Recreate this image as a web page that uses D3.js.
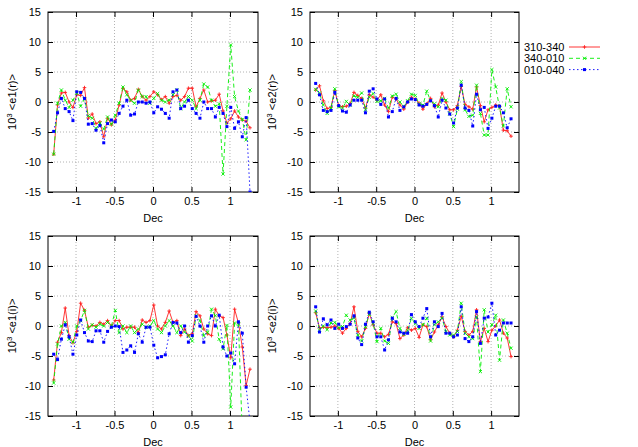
<!DOCTYPE html>
<html><head><meta charset="utf-8">
<script src="https://cdn.jsdelivr.net/npm/d3@7"></script>
<style>
body{margin:0;background:#fff}
svg{display:block}
text{font-family:"Liberation Sans",Arial,Helvetica,sans-serif}
</style>
</head><body>
<svg id="c" width="638" height="447"></svg>
<script>
// ---------------- data ----------------
const dec = [-1.29,-1.24,-1.19,-1.14,-1.09,-1.04,-0.99,-0.94,-0.89,-0.84,
  -0.79,-0.74,-0.69,-0.64,-0.59,-0.54,-0.49,-0.44,-0.39,-0.34,
  -0.29,-0.24,-0.19,-0.14,-0.09,-0.04,0.01,0.06,0.11,0.16,
  0.21,0.26,0.31,0.36,0.41,0.46,0.51,0.56,0.61,0.66,
  0.71,0.76,0.81,0.86,0.91,0.96,1.01,1.06,1.11,1.16,
  1.21,1.26];
const seriesNames = ["310-340","340-010","010-040"];
const xTicks = [-1,-0.5,0,0.5,1];
const yTicks = [-15,-10,-5,0,5,10,15];
const xDomain = [-1.364,1.364];
const yDomain = [-15,15];
const xTitle = "Dec";
const yTitles = ["<e1(r)>","<e2(r)>","<e1(i)>","<e2(i)>"];

// 10^3 <e1(r)>
const e1r_310_340 = [-8.7,-0.5,1.5,1.6,0.0,-0.9,1.2,1.1,2.4,-2.7,
  -2.0,-3.6,-3.3,-5.8,-2.7,-3.8,-3.0,-0.5,2.3,1.7,
  0.3,0.6,2.1,0.9,0.3,0.9,1.7,1.2,0.4,0.9,
  -0.2,0.9,1.1,0.3,0.9,2.3,2.3,-0.8,0.6,2.0,
  0.0,0.2,0.3,1.3,-1.5,-3.5,-2.8,-1.5,-2.5,-3.0,
  -3.2,-4.3];
const e1r_340_010 = [-8.7,-0.2,2.0,0.3,-0.9,0.3,1.5,-0.7,0.5,-2.3,
  -2.7,-4.4,-3.5,-4.5,-2.5,-3.7,-2.2,-0.2,2.5,1.2,
  0.3,-0.2,2.0,0.9,0.9,-0.2,0.6,1.4,0.3,0.0,
  0.3,1.2,2.0,-1.1,0.0,0.9,0.3,-1.1,0.3,3.0,
  2.5,0.3,-0.7,-0.3,-12.0,-0.7,9.5,0.9,-1.5,-2.9,
  -6.3,2.0];
const e1r_010_040 = [-4.9,-1.8,0.6,-1.1,-1.6,-3.1,1.7,1.6,0.6,-3.7,
  -3.6,-4.7,-3.9,-6.8,-3.6,-3.0,-3.3,-1.9,-0.7,0.3,
  -2.2,-2.0,0.0,0.0,-0.2,0.0,-1.8,-0.8,-1.2,-1.9,
  -2.7,1.7,2.0,-1.1,-0.7,0.3,-1.1,-1.9,-2.7,0.0,
  -1.1,-1.1,-2.5,-0.9,-1.9,-4.1,-0.9,-4.4,-3.3,-5.8,
  -2.6,-15.0];

// 10^3 <e2(r)>
const e2r_310_340 = [2.0,2.7,0.2,-1.1,-0.9,1.9,-0.6,-0.8,-0.7,-0.3,
  1.6,1.1,0.6,-1.0,1.2,0.8,0.3,1.2,-0.5,-1.6,
  0.8,0.5,-0.5,-1.2,0.0,0.8,0.5,-0.2,-1.2,-0.3,
  0.6,-0.8,-0.5,1.5,0.0,-1.3,-1.3,-0.6,2.6,-0.4,
  -0.8,-1.2,2.5,-0.6,-3.3,-1.3,-0.9,-0.5,-0.7,-4.7,
  -4.8,-5.7];
const e2r_340_010 = [2.1,1.5,-0.5,-1.9,-1.0,2.2,-0.8,-1.0,0.1,-0.5,
  1.0,0.8,1.5,-1.3,0.8,1.4,0.1,0.2,0.6,-1.0,
  1.0,1.3,0.0,-0.8,0.2,1.3,1.1,-0.3,-0.5,1.8,
  0.2,-0.3,-0.8,0.6,0.3,-2.0,-4.1,-1.2,3.4,-1.3,
  -2.4,-2.2,2.8,-1.9,-5.5,-5.5,5.4,2.5,-1.0,-4.0,
  2.2,-0.8];
const e2r_010_040 = [3.1,1.2,-1.4,-1.6,-1.4,1.6,-0.6,-1.5,-1.7,-0.5,
  0.3,0.3,0.3,-1.8,1.8,2.2,0.5,-0.4,0.5,-2.5,
  -1.6,0.6,-1.4,-0.8,0.0,0.5,0.4,-0.5,-0.7,-0.4,
  0.2,-0.6,-2.5,0.3,-1.0,-2.0,-3.5,-1.0,2.8,-1.0,
  -1.4,-4.0,1.3,-1.3,-0.9,-4.4,-2.7,-0.7,-0.7,-1.8,
  -4.3,-2.8];

// 10^3 <e1(i)>
const e1i_310_340 = [-9.0,-2.7,-1.1,3.0,-1.6,-2.8,-0.9,3.8,2.6,-0.2,
  0.1,0.0,0.6,0.3,0.9,0.0,0.9,0.9,-0.5,-0.2,
  -0.2,-0.2,-1.1,1.0,0.6,0.9,3.5,0.0,-0.5,0.6,
  2.5,0.6,0.9,-1.6,-0.5,-1.6,-1.3,2.4,1.7,-0.5,
  -1.3,-1.6,2.8,1.7,1.4,-1.5,-5.3,2.8,0.5,-3.5,
  -9.9,-7.2];
const e1i_340_010 = [-9.5,-3.0,0.0,0.6,-2.2,-2.7,0.0,0.9,2.6,-0.5,
  0.2,-0.2,0.3,0.0,0.6,0.0,2.6,-1.1,0.0,-1.1,
  0.0,-1.1,-0.5,0.3,-0.2,0.0,0.9,-0.5,-1.1,0.0,
  0.9,0.0,-1.1,0.0,-1.0,-1.6,-2.5,1.7,0.9,-1.6,
  -1.1,2.8,1.7,-2.2,-3.8,0.1,-13.5,0.5,0.3,-18.0,
  -19.0,-17.0];
const e1i_010_040 = [-4.7,-5.6,-2.2,0.2,-1.8,-4.7,-1.5,1.0,-1.1,-2.5,
  -2.6,-0.8,-0.8,-2.7,-0.9,-0.2,0.0,-0.1,-4.4,-4.0,
  -3.3,-4.4,-1.3,-2.7,-0.2,-0.2,-3.2,-5.3,-5.1,-4.8,
  -1.3,0.6,0.5,-1.1,0.0,-2.7,-1.6,1.6,0.0,-2.7,
  0.0,1.7,0.0,1.8,-3.5,-5.0,-4.5,-6.3,0.7,-1.2,
  -10.2,-16.0];

// 10^3 <e2(i)>
const e2i_310_340 = [2.2,-0.3,-0.2,-0.3,-0.2,0.0,-0.4,-1.2,-0.4,0.4,
  3.2,-0.9,-1.8,-0.4,2.1,0.2,-1.2,-1.2,-1.8,-1.4,
  0.7,0.4,-2.1,-1.5,-0.3,-0.7,-0.4,-1.9,0.2,-0.1,
  -2.3,-1.0,0.2,1.5,-0.1,-1.2,-1.8,-0.7,1.6,-0.9,
  -1.5,-0.9,2.7,-2.6,-0.4,-2.6,-0.7,0.0,1.0,-1.2,
  -2.0,-5.1];
const e2i_340_010 = [2.5,-0.7,0.0,-0.6,0.5,0.6,-0.3,-0.1,1.8,1.0,
  1.3,-1.5,-2.5,-0.1,2.0,0.4,-2.6,-0.4,-2.5,-2.9,
  1.4,2.4,-0.4,-1.4,-0.8,1.3,0.4,-0.4,0.2,1.3,
  -2.5,0.2,0.7,1.3,-0.9,-1.5,-1.5,-0.9,3.8,-1.2,
  -1.8,-2.1,1.5,-7.6,2.7,-1.0,0.2,1.8,-5.7,1.0,
  -1.2,-3.7];
const e2i_010_040 = [3.2,-1.0,1.2,0.2,1.0,-0.4,0.3,-0.4,-0.1,0.3,
  1.7,-2.0,-3.1,0.3,2.3,0.7,-1.8,-1.8,-4.0,-2.3,
  1.3,0.7,-1.0,-1.2,-1.2,1.9,0.7,-0.1,1.3,2.9,
  -1.8,0.7,-0.1,2.1,-1.2,-1.2,-1.8,-1.5,3.2,-2.1,
  -2.6,-1.8,2.4,-2.9,1.3,1.5,3.8,-1.5,-0.7,0.5,
  0.5,0.5];

const panelSeries = [
  [e1r_310_340, e1r_340_010, e1r_010_040],
  [e2r_310_340, e2r_340_010, e2r_010_040],
  [e1i_310_340, e1i_340_010, e1i_010_040],
  [e2i_310_340, e2i_340_010, e2i_010_040]
];

// ---------------- drawing ----------------
const svg = d3.select("#c");
const layout = [
  {l:48, r:258, t:12, b:192, yl:16},
  {l:310, r:519, t:12, b:192, yl:276},
  {l:48, r:258, t:236, b:416, yl:16},
  {l:310, r:519, t:236, b:416, yl:276}
];
const styles = [
  {color:"#ff2020", dash:null, marker:"plus"},
  {color:"#00ee00", dash:"4,3", marker:"cross"},
  {color:"#0000ff", dash:"1.5,2.5", marker:"square"}
];
const fmt = d => String(d);
const FS = 11;

function marker(g, type, color, cx, cy) {
  if (type === "plus") {
    g.append("path").attr("d", `M${cx-1.8},${cy}H${cx+1.8}M${cx},${cy-1.8}V${cy+1.8}`)
      .attr("stroke", color).attr("stroke-width", 0.9).attr("fill", "none");
  } else if (type === "cross") {
    g.append("path").attr("d", `M${cx-1.6},${cy-1.6}L${cx+1.6},${cy+1.6}M${cx-1.6},${cy+1.6}L${cx+1.6},${cy-1.6}`)
      .attr("stroke", color).attr("stroke-width", 0.9).attr("fill", "none");
  } else {
    g.append("rect").attr("x", cx-1.5).attr("y", cy-1.5).attr("width", 3).attr("height", 3)
      .attr("fill", color);
  }
}

layout.forEach((L, pi) => {
  const x = d3.scaleLinear().domain(xDomain).range([L.l, L.r]);
  const y = d3.scaleLinear().domain(yDomain).range([L.b, L.t]);
  const g = svg.append("g");

  // grid
  g.append("g").selectAll("line").data(xTicks).join("line")
    .attr("x1", d => x(d)).attr("x2", d => x(d)).attr("y1", L.t).attr("y2", L.b)
    .attr("stroke", "#a0a0a0").attr("stroke-width", 0.8).attr("stroke-dasharray", "1,2");
  g.append("g").selectAll("line").data(yTicks.filter(v => v > yDomain[0] && v < yDomain[1])).join("line")
    .attr("x1", L.l).attr("x2", L.r).attr("y1", d => y(d)).attr("y2", d => y(d))
    .attr("stroke", "#a0a0a0").attr("stroke-width", 0.8).attr("stroke-dasharray", "1,2");

  // axes
  const ax = [
    g.append("g").attr("transform", `translate(0,${L.b})`)
      .call(d3.axisBottom(x).tickValues(xTicks).tickSize(-5).tickPadding(5).tickFormat(fmt)),
    g.append("g").attr("transform", `translate(0,${L.t})`)
      .call(d3.axisTop(x).tickValues(xTicks).tickSize(-5).tickFormat("")),
    g.append("g").attr("transform", `translate(${L.l},0)`)
      .call(d3.axisLeft(y).tickValues(yTicks).tickSize(-5).tickPadding(7).tickFormat(fmt)),
    g.append("g").attr("transform", `translate(${L.r},0)`)
      .call(d3.axisRight(y).tickValues(yTicks).tickSize(-5).tickFormat(""))
  ];
  ax.forEach(a => {
    a.select(".domain").remove();
    a.selectAll("line").attr("stroke", "#000");
    a.selectAll("text").attr("font-size", FS).attr("font-family", '"Liberation Sans",Arial,sans-serif').attr("fill", "#000");
  });

  // frame
  g.append("rect").attr("x", L.l).attr("y", L.t).attr("width", L.r - L.l).attr("height", L.b - L.t)
    .attr("fill", "none").attr("stroke", "#000").attr("stroke-width", 1);

  // clip
  const cid = "clip" + pi;
  svg.append("clipPath").attr("id", cid).append("rect")
    .attr("x", L.l).attr("y", L.t).attr("width", L.r - L.l).attr("height", L.b - L.t);
  const dg = g.append("g").attr("clip-path", `url(#${cid})`);

  panelSeries[pi].forEach((vals, si) => {
    const st = styles[si];
    const line = d3.line().x((d, i) => x(dec[i])).y(d => y(d));
    dg.append("path").datum(vals).attr("d", line)
      .attr("fill", "none").attr("stroke", st.color).attr("stroke-width", 0.9)
      .attr("stroke-dasharray", st.dash);
    vals.forEach((v, i) => marker(dg, st.marker, st.color, x(dec[i]), y(v)));
  });

  // titles
  g.append("text").attr("x", (L.l + L.r) / 2).attr("y", L.b + 30)
    .attr("text-anchor", "middle").attr("font-size", FS).text(xTitle);
  const yt = g.append("text")
    .attr("transform", `translate(${L.yl},${(L.t + L.b) / 2}) rotate(-90)`)
    .attr("text-anchor", "middle").attr("font-size", FS);
  yt.append("tspan").text("10");
  yt.append("tspan").attr("font-size", 8).attr("dy", -4).text("3");
  yt.append("tspan").attr("dy", 4).text(" " + yTitles[pi]);
});

// legend
const lg = svg.append("g");
seriesNames.forEach((name, i) => {
  const st = styles[i];
  const cy = 47 + i * 11.3;
  lg.append("text").attr("x", 524).attr("y", cy + 4).attr("font-size", FS).text(name);
  lg.append("line").attr("x1", 569).attr("x2", 600).attr("y1", cy).attr("y2", cy)
    .attr("stroke", st.color).attr("stroke-width", 0.9).attr("stroke-dasharray", st.dash);
  marker(lg, st.marker, st.color, 584.5, cy);
});
</script>
</body></html>
